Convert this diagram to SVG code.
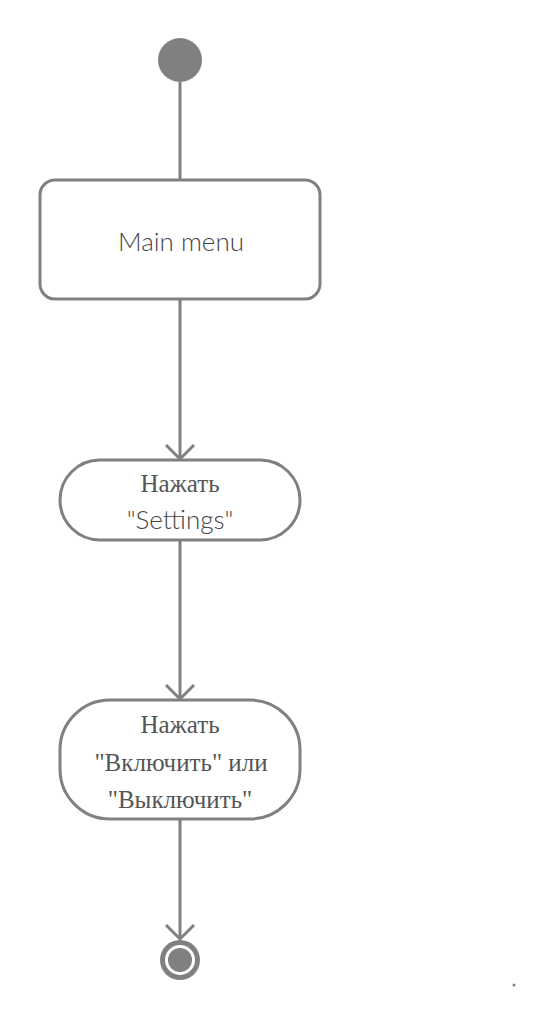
<svg xmlns="http://www.w3.org/2000/svg" width="554" height="1026" viewBox="0 0 554 1026">
<style>
.n{fill:#fff;stroke:#808080;stroke-width:3}
.t{font-family:Lato,"Liberation Sans",sans-serif;font-weight:300;font-size:26px;fill:#444;text-anchor:middle}
.s{font-family:"Liberation Serif",serif;font-size:25px;fill:#555;text-anchor:middle}
.c{stroke:#808080;stroke-width:3;fill:none}
</style>
<rect width="554" height="1026" fill="#fff"/>
<g id="connectors">
<line class="c" x1="180" y1="82" x2="180" y2="180"/>
<path class="c" d="M180 300 V458 M166 445 L180 459 L194 445"/>
<path class="c" d="M180 540 V698 M166 685 L180 699 L194 685"/>
<path class="c" d="M180 820 V938 M166 925 L180 939 L194 925"/>
</g>
<g id="start"><circle cx="180" cy="60" r="22" fill="#808080"/></g>
<g id="main-menu">
<rect class="n" x="40" y="180" width="280" height="119" rx="15"/>
<text class="t" x="181" y="251">Main menu</text>
</g>
<g id="settings">
<rect class="n" x="60" y="460" width="240" height="80" rx="40"/>
<text class="s" x="180" y="492">Нажать</text>
<text class="t" x="180" y="529">"Settings"</text>
</g>
<g id="toggle">
<rect class="n" x="60" y="700" width="240" height="119" rx="50"/>
<text class="s" x="180" y="733">Нажать</text>
<text class="s" x="181" y="771">"Включить" или</text>
<text class="s" x="180" y="808">"Выключить"</text>
</g>
<g id="end">
<circle cx="180" cy="960" r="20" fill="#808080"/>
<circle cx="180" cy="960" r="15" fill="#fff"/>
<circle cx="180" cy="960" r="12" fill="#808080"/>
</g>
<circle cx="514" cy="985" r="1.5" fill="#808080"/>
</svg>
